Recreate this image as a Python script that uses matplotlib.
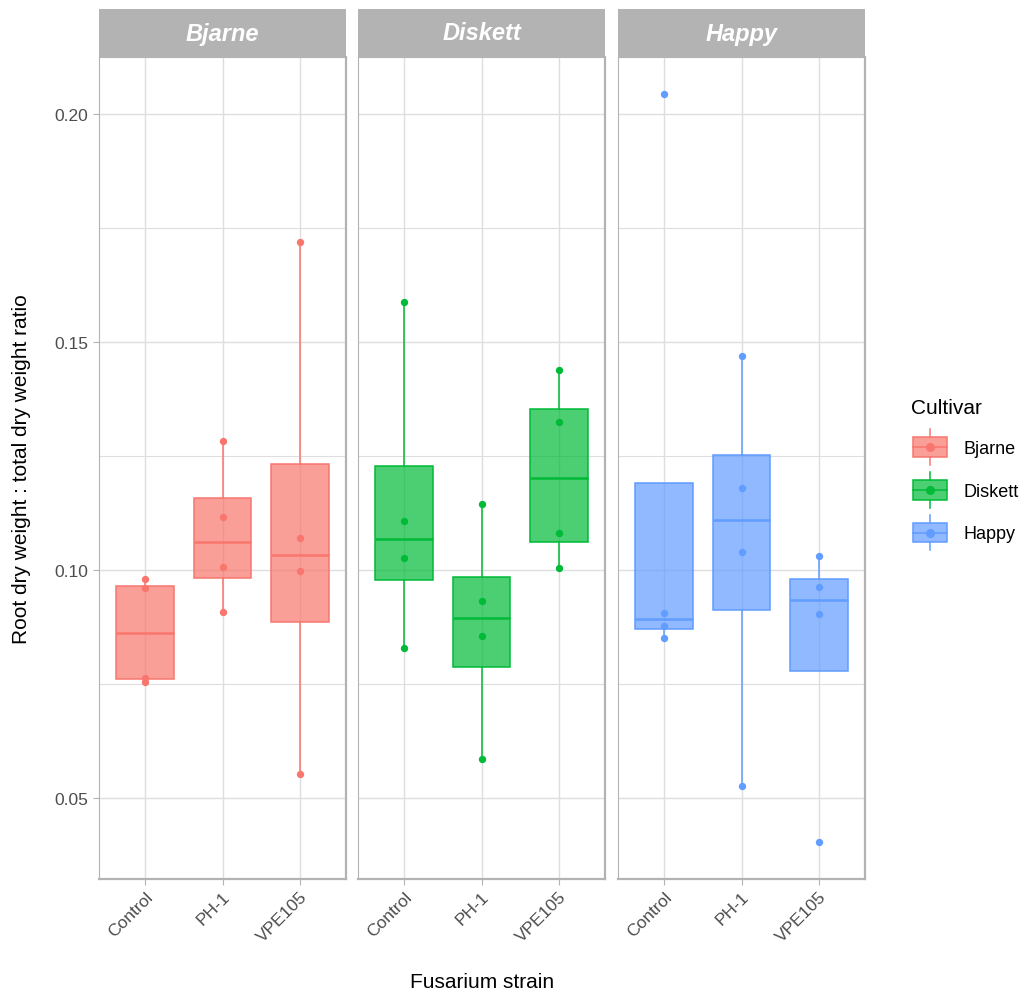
import matplotlib.pyplot as plt
import matplotlib.patches as mpatches
import matplotlib.lines as mlines
from matplotlib.legend_handler import HandlerBase
import numpy as np

plt.rcParams['font.family'] = ['Liberation Sans', 'DejaVu Sans']

# Data
strains = ['Control', 'PH-1', 'VPE105']
cultivars = ['Bjarne', 'Diskett', 'Happy']
colors = ['#F8766D', '#00BA38', '#619CFF']

bjarne = [[0.0755, 0.0763, 0.0961, 0.0980],
          [0.0908, 0.1007, 0.1116, 0.1282],
          [0.0552, 0.0997, 0.1070, 0.1720]]
diskett = [[0.0828, 0.1027, 0.1107, 0.1588],
           [0.0586, 0.0855, 0.0932, 0.1144],
           [0.1004, 0.1080, 0.1325, 0.1439]]
happy = [[0.0850, 0.0878, 0.0905, 0.2044],
         [0.0526, 0.1040, 0.1180, 0.1469],
         [0.0403, 0.0904, 0.0962, 0.1031]]
data = [bjarne, diskett, happy]

W, H = 1033, 995
fig = plt.figure(figsize=(W / 100, H / 100), dpi=100)

panel_left = [99, 358, 618]
panel_w = 247
top_px, bot_px = 58, 880
strip_h = 48
grid_c = '#DEDEDE'
border_c = '#B3B3B3'
fill_alpha = 0.7

for i, cult in enumerate(cultivars):
    ax = fig.add_axes([panel_left[i] / W, 1 - bot_px / H, panel_w / W, (bot_px - top_px) / H])
    col = colors[i]
    rgb = mpatches.Patch(color=col).get_facecolor()[:3]
    bp = ax.boxplot(data[i], positions=[1, 2, 3], widths=0.75, patch_artist=True,
                    showfliers=False, showcaps=False, whis=1.5, zorder=3)
    for b in bp['boxes']:
        b.set_facecolor(rgb + (fill_alpha,))
        b.set_edgecolor(col)
        b.set_linewidth(1.1)
    for w in bp['whiskers']:
        w.set_color(col)
        w.set_linewidth(1.1)
    for m in bp['medians']:
        m.set_color(col)
        m.set_linewidth(1.8)
    for j, vals in enumerate(data[i]):
        ax.scatter([j + 1] * len(vals), vals, s=28, color=col, zorder=4, linewidths=0)

    ax.set_xlim(0.4, 3.6)
    ax.set_ylim(0.0322, 0.2125)
    ax.set_xticks([1, 2, 3])
    ax.set_xticklabels(strains, rotation=45, ha='right', rotation_mode='anchor',
                       fontsize=12.5, color='#4D4D4D')
    ax.set_yticks([0.05, 0.10, 0.15, 0.20])
    ax.set_yticks([0.075, 0.125, 0.175], minor=True)
    if i == 0:
        ax.set_yticklabels(['0.05', '0.10', '0.15', '0.20'], fontsize=12.5, color='#4D4D4D')
        ax.tick_params(axis='y', which='major', length=4, color=border_c, width=0.8)
    else:
        ax.set_yticklabels([])
        ax.tick_params(axis='y', which='major', length=0)
    ax.tick_params(axis='y', which='minor', length=0)
    ax.tick_params(axis='x', length=4, color=border_c, width=0.8, pad=3)
    ax.grid(True, which='major', color=grid_c, linewidth=1.0, zorder=0)
    ax.grid(True, which='minor', axis='y', color=grid_c, linewidth=0.8, zorder=0)
    ax.set_axisbelow(True)
    for side, sp in ax.spines.items():
        sp.set_color(border_c)
        sp.set_linewidth(0.8 if side in ('left', 'top') else 1.6)

    # facet strip
    sax = fig.add_axes([panel_left[i] / W, 1 - top_px / H, panel_w / W, strip_h / H])
    sax.set_facecolor(border_c)
    sax.set_xticks([])
    sax.set_yticks([])
    for sp in sax.spines.values():
        sp.set_visible(False)
    sax.text(0.5, 0.5, cult, ha='center', va='center', color='white', fontsize=17,
             fontweight='bold', fontstyle='italic', transform=sax.transAxes)

fig.text(22 / W, 1 - 469 / H, 'Root dry weight : total dry weight ratio', rotation=90,
         ha='center', va='center', fontsize=15)
fig.text(482 / W, 1 - 983 / H, 'Fusarium strain', ha='center', va='center', fontsize=15)


class BoxHandler(HandlerBase):
    def create_artists(self, legend, orig_handle, xdescent, ydescent, width, height, fontsize, trans):
        col = orig_handle.get_facecolor()
        edge = orig_handle.get_edgecolor()
        cx = width / 2 - xdescent
        rect = mpatches.Rectangle((cx - width * 0.45, -ydescent + height * 0.12), width * 0.9, height * 0.76,
                                  facecolor=col, edgecolor=edge, linewidth=1.1, transform=trans)
        med = mlines.Line2D([cx - width * 0.45, cx + width * 0.45],
                            [height / 2 - ydescent] * 2, color=edge, linewidth=1.1, transform=trans)
        wu = mlines.Line2D([cx, cx], [height * 0.88 - ydescent, height * 1.2 - ydescent],
                           color=edge, linewidth=1.1, transform=trans)
        wl = mlines.Line2D([cx, cx], [height * 0.12 - ydescent, -height * 0.2 - ydescent],
                           color=edge, linewidth=1.1, transform=trans)
        dot = mlines.Line2D([cx], [height / 2 - ydescent], marker='o', markersize=5.5,
                            color=edge, linestyle='none', transform=trans)
        return [rect, med, wu, wl, dot]


handles = []
for c in colors:
    p = mpatches.Patch(facecolor=c, edgecolor=c)
    p.set_facecolor(p.get_facecolor()[:3] + (fill_alpha,))
    handles.append(p)

leg = fig.legend(handles, cultivars, loc='upper left', bbox_to_anchor=(895 / W, 1 - 383 / H),
                 frameon=False, title='Cultivar', fontsize=13, title_fontsize=15,
                 handler_map={mpatches.Patch: BoxHandler()}, handlelength=2.1, handleheight=1.8,
                 labelspacing=0.95, handletextpad=0.8)
leg._legend_box.align = 'left'

fig.savefig('out.png', dpi=100)
